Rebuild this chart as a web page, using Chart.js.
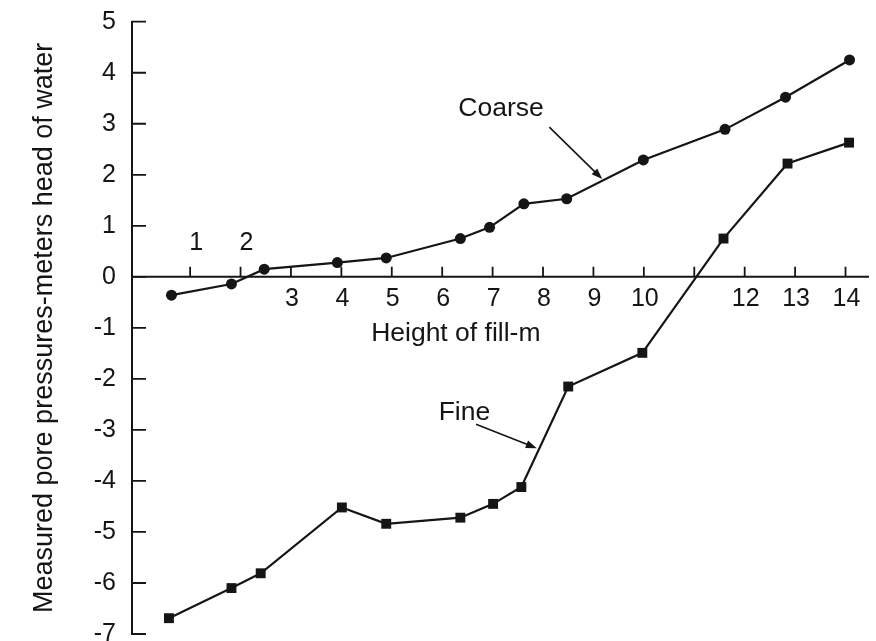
<!DOCTYPE html>
<html>
<head>
<meta charset="utf-8">
<script src="https://cdn.jsdelivr.net/npm/chart.js@4/dist/chart.umd.min.js"></script>
<style>
  html, body { margin: 0; padding: 0; background: #ffffff; }
  #wrap { width: 876px; height: 641px; position: relative; }
</style>
</head>
<body>
<div id="wrap"><canvas id="c" width="876" height="641"></canvas></div>
<script>
// ---- data ----
const coarseX = [0.63, 1.82, 2.47, 3.92, 4.89, 6.36, 6.94, 7.62, 8.47, 9.99, 11.61, 12.81, 14.08];
const coarseY = [-0.36, -0.14, 0.15, 0.28, 0.37, 0.75, 0.97, 1.43, 1.53, 2.29, 2.89, 3.52, 4.25];
const fineX = [0.58, 1.82, 2.40, 4.01, 4.89, 6.36, 7.01, 7.57, 8.50, 9.97, 11.58, 12.85, 14.07];
const fineY = [-6.69, -6.10, -5.81, -4.52, -4.84, -4.72, -4.45, -4.12, -2.15, -1.49, 0.75, 2.22, 2.63];

const yTicks = [5, 4, 3, 2, 1, 0, -1, -2, -3, -4, -5, -6, -7];
const xTicks = [1, 2, 3, 4, 5, 6, 7, 8, 9, 10, 11, 12, 13, 14];
const xLabelsAbove = [1, 2];      // labels printed above the axis
const xLabelsHidden = [11];       // tick without label

const xTitle = 'Height of fill-m';
const yTitle = 'Measured pore pressures-meters head of water';
const seriesNames = ['Coarse', 'Fine'];

const FONT = '"Liberation Sans", Arial, Helvetica, sans-serif';
const INK = '#151515';

function pts(xs, ys) { return xs.map((v, i) => ({ x: v, y: ys[i] })); }

function arrow(ctx, x1, y1, x2, y2) {
  const ang = Math.atan2(y2 - y1, x2 - x1);
  const L = 11, W = 4;
  ctx.beginPath();
  ctx.moveTo(x1, y1);
  ctx.lineTo(x2 - Math.cos(ang) * L * 0.8, y2 - Math.sin(ang) * L * 0.8);
  ctx.stroke();
  ctx.beginPath();
  ctx.moveTo(x2, y2);
  ctx.lineTo(x2 - L * Math.cos(ang) + W * Math.sin(ang), y2 - L * Math.sin(ang) - W * Math.cos(ang));
  ctx.lineTo(x2 - L * Math.cos(ang) - W * Math.sin(ang), y2 - L * Math.sin(ang) + W * Math.cos(ang));
  ctx.closePath();
  ctx.fill();
}

const axesPlugin = {
  id: 'axesPlugin',
  beforeDatasetsDraw(chart) {
    const { ctx, chartArea, scales } = chart;
    const xs = scales.x, ys = scales.y;
    const y0 = ys.getPixelForValue(0);
    ctx.save();
    ctx.strokeStyle = INK;
    ctx.fillStyle = INK;
    // horizontal axis at y = 0
    ctx.lineWidth = 2;
    ctx.beginPath();
    ctx.moveTo(chartArea.left, y0);
    ctx.lineTo(chartArea.right, y0);
    ctx.stroke();
    // inward y ticks
    ctx.lineWidth = 1.8;
    ctx.beginPath();
    yTicks.forEach(v => {
      const py = ys.getPixelForValue(v);
      ctx.moveTo(chartArea.left, py);
      ctx.lineTo(chartArea.left + 14, py);
    });
    // upward x ticks
    xTicks.forEach(v => {
      const px = xs.getPixelForValue(v);
      ctx.moveTo(px, y0);
      ctx.lineTo(px, y0 - 10);
    });
    ctx.stroke();
    // x tick labels
    ctx.font = '25px ' + FONT;
    ctx.textAlign = 'center';
    ctx.textBaseline = 'alphabetic';
    xTicks.forEach(v => {
      if (xLabelsHidden.includes(v)) return;
      const px = xs.getPixelForValue(v);
      if (xLabelsAbove.includes(v)) {
        ctx.fillText(String(v), px + 6, y0 - 27);
      } else {
        ctx.fillText(String(v), px + 1, y0 + 29);
      }
    });
    // x axis title
    ctx.font = '26.5px ' + FONT;
    ctx.textAlign = 'center';
    ctx.fillText(xTitle, xs.getPixelForValue(6.27), ys.getPixelForValue(-1.26));
    ctx.restore();
  },
  afterDatasetsDraw(chart) {
    const { ctx, scales } = chart;
    const xs = scales.x, ys = scales.y;
    ctx.save();
    ctx.strokeStyle = INK;
    ctx.fillStyle = INK;
    ctx.lineWidth = 1.6;
    ctx.font = '26.5px ' + FONT;
    ctx.textAlign = 'left';
    ctx.textBaseline = 'alphabetic';
    // Coarse label and arrow
    ctx.fillText(seriesNames[0], xs.getPixelForValue(6.32), ys.getPixelForValue(3.16));
    arrow(ctx, xs.getPixelForValue(8.125), ys.getPixelForValue(2.934),
               xs.getPixelForValue(9.175), ys.getPixelForValue(1.916));
    // Fine label and arrow
    ctx.fillText(seriesNames[1], xs.getPixelForValue(5.93), ys.getPixelForValue(-2.815));
    arrow(ctx, xs.getPixelForValue(6.671), ys.getPixelForValue(-2.888),
               xs.getPixelForValue(7.877), ys.getPixelForValue(-3.36));
    ctx.restore();
  }
};

new Chart(document.getElementById('c'), {
  type: 'scatter',
  data: {
    datasets: [
      {
        label: seriesNames[0],
        data: pts(coarseX, coarseY),
        showLine: true,
        borderColor: INK,
        backgroundColor: INK,
        borderWidth: 2.2,
        pointStyle: 'circle',
        pointRadius: 5.5,
        pointBorderWidth: 0,
        clip: false
      },
      {
        label: seriesNames[1],
        data: pts(fineX, fineY),
        showLine: true,
        borderColor: INK,
        backgroundColor: INK,
        borderWidth: 2.2,
        pointStyle: 'rect',
        pointRadius: 7,
        pointBorderWidth: 0,
        clip: false
      }
    ]
  },
  options: {
    responsive: false,
    animation: false,
    devicePixelRatio: 1,
    layout: { padding: { left: 0, right: 0, top: 21.7, bottom: 3 } },
    plugins: { legend: { display: false }, tooltip: { enabled: false } },
    scales: {
      x: {
        type: 'linear',
        min: -0.153,
        max: 14.466,
        display: false
      },
      y: {
        type: 'linear',
        min: -7,
        max: 5,
        position: 'left',
        afterBuildTicks: (s) => { s.ticks = yTicks.map(v => ({ value: v })); },
        afterFit: (s) => { s.width = 132; s.paddingTop = 0; s.paddingBottom = 0; },
        grid: { display: false },
        border: { display: true, color: INK, width: 2 },
        ticks: {
          color: INK,
          padding: 8,
          font: { family: FONT, size: 25 },
          callback: (v) => String(v)
        },
        title: {
          display: true,
          text: yTitle,
          color: INK,
          font: { family: FONT, size: 27 },
          padding: { top: 28, bottom: 0 }
        }
      }
    }
  },
  plugins: [axesPlugin]
});
</script>
</body>
</html>
